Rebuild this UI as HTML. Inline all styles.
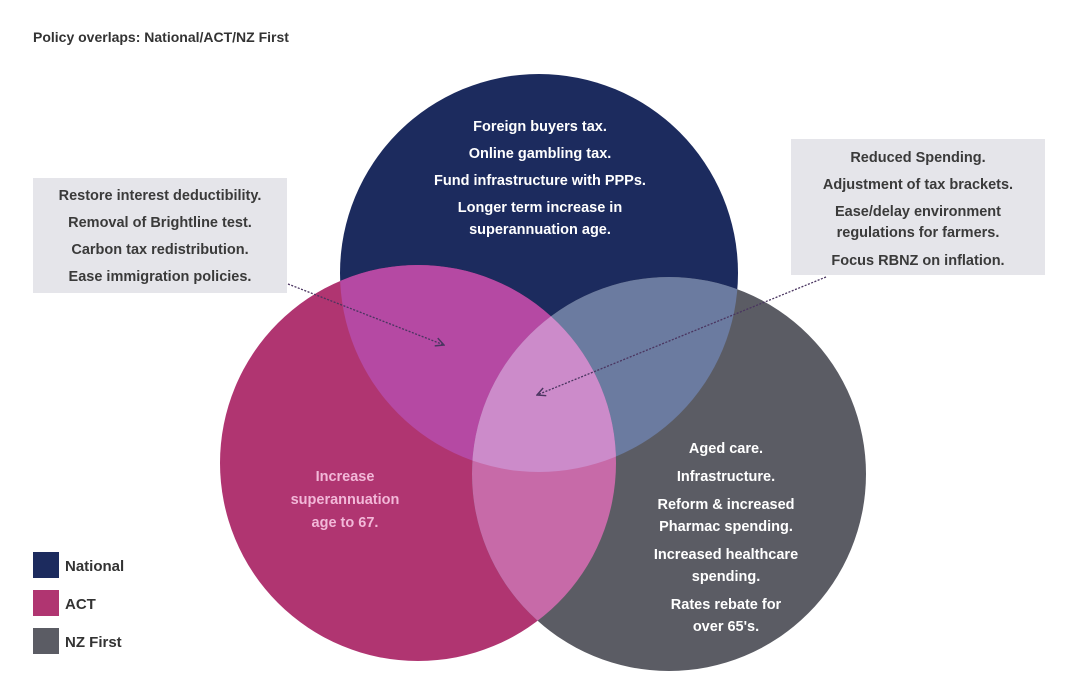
<!DOCTYPE html>
<html><head><meta charset="utf-8"><style>
html,body{margin:0;padding:0;background:#fff;}
svg{display:block;}
text{font-family:"Liberation Sans",sans-serif;}
</style></head><body>
<svg width="1080" height="684" viewBox="0 0 1080 684" xmlns="http://www.w3.org/2000/svg">
<defs>
<clipPath id="cN"><circle cx="539" cy="273" r="199"/></clipPath>
<clipPath id="cA"><circle cx="418" cy="463" r="198"/></clipPath>
<clipPath id="cZ"><circle cx="669" cy="474" r="197"/></clipPath>
<marker id="ar" viewBox="0 0 10 10" refX="9" refY="5" markerWidth="8" markerHeight="8" orient="auto"><path d="M1,1 L9,5 L1,9" fill="none" stroke="#4a3560" stroke-width="1.4"/></marker>
</defs>
<text x="33" y="42" font-size="14" font-weight="bold" fill="#333">Policy overlaps: National/ACT/NZ First</text>

<circle cx="539" cy="273" r="199" fill="#1c2b5e"/>
<circle cx="418" cy="463" r="198" fill="#b03571"/>
<circle cx="669" cy="474" r="197" fill="#5b5c64"/>
<g clip-path="url(#cN)"><circle cx="418" cy="463" r="198" fill="#b549a3"/><circle cx="669" cy="474" r="197" fill="#6b7ba0"/></g>
<g clip-path="url(#cA)"><circle cx="669" cy="474" r="197" fill="#c76aa8"/></g>
<g clip-path="url(#cA)"><g clip-path="url(#cN)"><circle cx="669" cy="474" r="197" fill="#cc8bca"/></g></g>

<rect x="33" y="178" width="254" height="115" fill="#e5e5ea"/>
<g font-size="14.5" fill="#3a3a3a" text-anchor="middle" font-weight="bold">
<text x="160" y="200">Restore interest deductibility.</text>
<text x="160" y="227">Removal of Brightline test.</text>
<text x="160" y="254">Carbon tax redistribution.</text>
<text x="160" y="281">Ease immigration policies.</text>
</g>
<rect x="791" y="139" width="254" height="136" fill="#e5e5ea"/>
<g font-size="14.5" fill="#3a3a3a" text-anchor="middle" font-weight="bold">
<text x="918" y="162">Reduced Spending.</text>
<text x="918" y="189">Adjustment of tax brackets.</text>
<text x="918" y="216">Ease/delay environment</text>
<text x="918" y="237">regulations for farmers.</text>
<text x="918" y="265">Focus RBNZ on inflation.</text>
</g>

<line x1="288" y1="284" x2="444" y2="345" stroke="#4a3560" stroke-width="1.3" stroke-dasharray="2,1.5" marker-end="url(#ar)"/>
<line x1="826" y1="277" x2="537" y2="395" stroke="#4a3560" stroke-width="1.3" stroke-dasharray="2,1.5" marker-end="url(#ar)"/>

<g font-size="14.5" fill="#fff" text-anchor="middle" font-weight="bold">
<text x="540" y="131">Foreign buyers tax.</text>
<text x="540" y="158">Online gambling tax.</text>
<text x="540" y="185">Fund infrastructure with PPPs.</text>
<text x="540" y="212">Longer term increase in</text>
<text x="540" y="234">superannuation age.</text>
</g>
<g font-size="14.5" fill="#f2b8d8" text-anchor="middle" font-weight="bold">
<text x="345" y="481">Increase</text>
<text x="345" y="504">superannuation</text>
<text x="345" y="527">age to 67.</text>
</g>
<g font-size="14.5" fill="#fff" text-anchor="middle" font-weight="bold">
<text x="726" y="453">Aged care.</text>
<text x="726" y="481">Infrastructure.</text>
<text x="726" y="509">Reform &amp; increased</text>
<text x="726" y="531">Pharmac spending.</text>
<text x="726" y="559">Increased healthcare</text>
<text x="726" y="581">spending.</text>
<text x="726" y="609">Rates rebate for</text>
<text x="726" y="631">over 65's.</text>
</g>

<rect x="33" y="552" width="26" height="26" fill="#1c2b5e"/>
<rect x="33" y="590" width="26" height="26" fill="#b03571"/>
<rect x="33" y="628" width="26" height="26" fill="#5b5c64"/>
<g font-size="15" fill="#333" font-weight="bold">
<text x="65" y="571">National</text>
<text x="65" y="609">ACT</text>
<text x="65" y="647">NZ First</text>
</g>
</svg>
</body></html>
